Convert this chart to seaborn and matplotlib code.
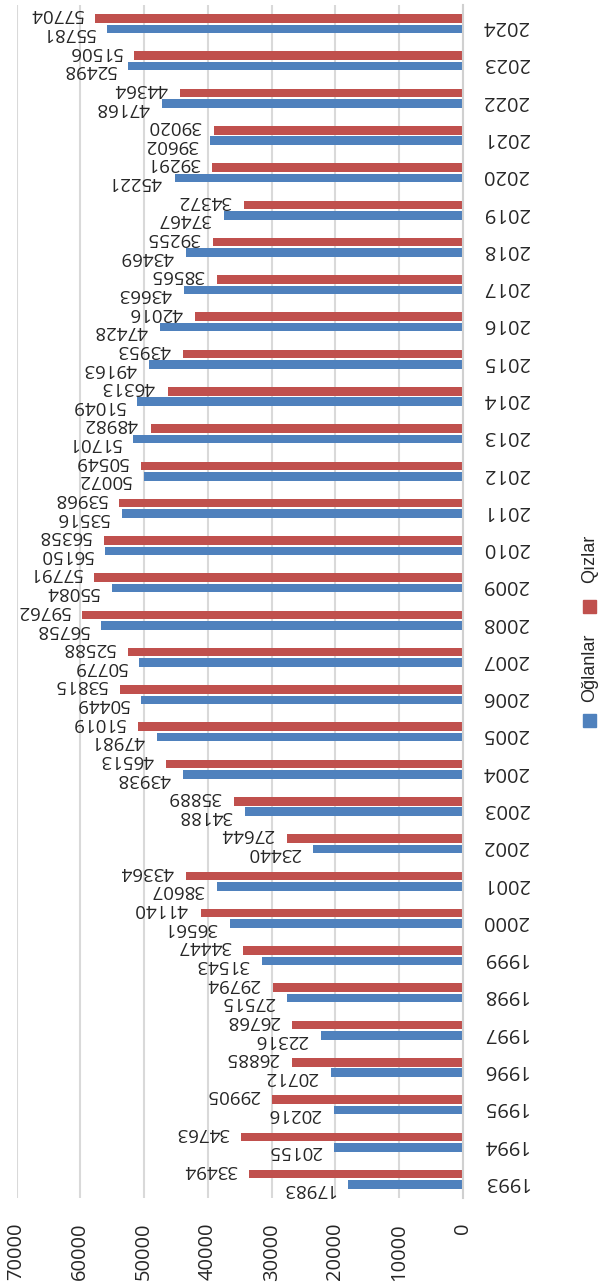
import matplotlib
matplotlib.use("Agg")
import matplotlib.pyplot as plt
from matplotlib.patches import Rectangle
import pandas as pd
import seaborn as sns

# --- data ---
years = [str(y) for y in range(1993, 2025)]
oglanlar = [17983, 20155, 20216, 20712, 22316, 27515, 31543, 36561, 38607, 23440,
            34188, 43938, 47981, 50449, 50779, 56758, 55084, 56150, 53516, 50072,
            51701, 51049, 49163, 47428, 43663, 43469, 37467, 45221, 39602, 47168,
            52498, 55781]
qizlar = [33494, 34763, 29905, 26885, 26768, 29794, 34447, 41140, 43364, 27644,
          35889, 46513, 51019, 53815, 52588, 59762, 57791, 56358, 53968, 50549,
          48982, 46313, 43953, 42016, 38565, 39255, 34372, 39291, 39020, 44364,
          51506, 57704]
groups = ["Oğlanlar", "Qızlar"]
colors = {"Oğlanlar": "#4F81BD", "Qızlar": "#C0504D"}
value_ticks = [0, 10000, 20000, 30000, 40000, 50000, 60000, 70000]

df = pd.DataFrame({
    "year": years * 2,
    "group": [groups[0]] * len(years) + [groups[1]] * len(years),
    "value": oglanlar + qizlar,
})

sns.set_style("white")
plt.rcParams["font.family"] = ["Open Sans", "DejaVu Sans"]

W, H = 603, 1283
fig = plt.figure(figsize=(W / 100, H / 100), dpi=100)
ax = fig.add_axes([16.5 / W, 1 - 1198 / H, (463 - 16.5) / W, (1198 - 5) / H])

sns.barplot(data=df, y="year", x="value", hue="group", orient="h",
            order=years[::-1], hue_order=["Qızlar", "Oğlanlar"],
            palette=colors, width=0.56, gap=0.18, legend=False, ax=ax,
            saturation=1, edgecolor="none")

ax.set_xlim(70000, 0)
ax.set_xticks(value_ticks)
ax.set_xticklabels([str(v) for v in value_ticks], rotation=90, fontsize=14.5)
ax.tick_params(axis="x", length=0, pad=18)
ax.yaxis.tick_right()
ax.tick_params(axis="y", length=0, pad=14, labelsize=14.5)
for lab in ax.get_yticklabels():
    lab.set_rotation(180)
ax.set_xlabel("")
ax.set_ylabel("")
ax.grid(axis="x", color="#D9D9D9", linewidth=1.5)
ax.set_axisbelow(True)
for side in ["top", "bottom", "left"]:
    ax.spines[side].set_visible(False)
ax.spines["right"].set_color("#D0D0D0")
ax.spines["right"].set_linewidth(1.5)

# value labels: red ones nudged up, blue ones nudged down
for cont, dy in zip(ax.containers, [3.0, -3.0]):
    anns = ax.bar_label(cont, fmt="{:.0f}", padding=9, rotation=180, fontsize=13.5)
    for a in anns:
        a.xyann = (a.xyann[0], dy)

# legend (rotated, drawn by hand)
for name, yc, ytxt in [("Oğlanlar", 720, 702), ("Qızlar", 606, 583)]:
    fig.add_artist(Rectangle(((589.5 - 6.5) / W, 1 - (yc + 6.5) / H), 13 / W, 13 / H,
                             transform=fig.transFigure, color=colors[name]))
    fig.text(590 / W, 1 - ytxt / H, name, rotation=90, ha="center", va="bottom",
             fontsize=13, family=["Liberation Sans", "DejaVu Sans"])

fig.savefig("out.png", dpi=100)
